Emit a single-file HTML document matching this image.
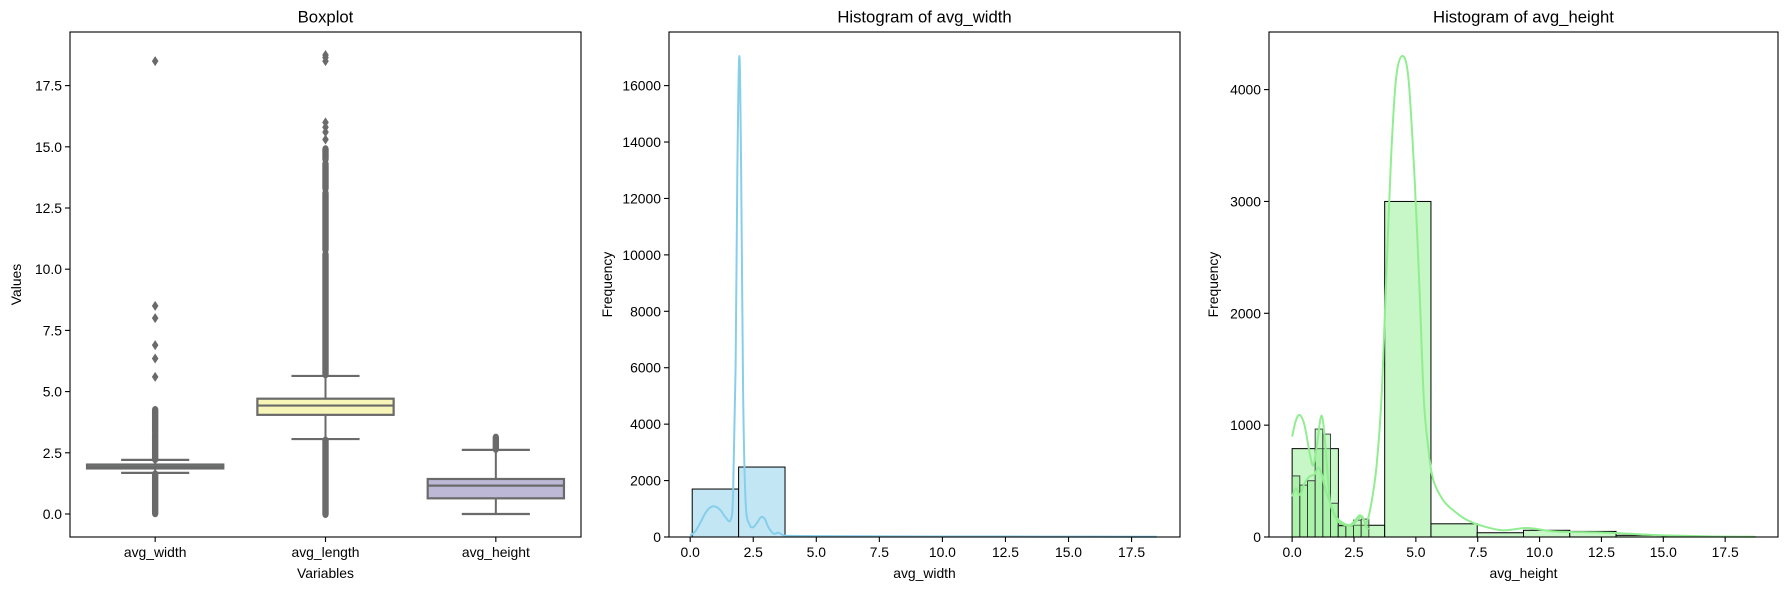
<!DOCTYPE html>
<html><head><meta charset="utf-8">
<style>
html,body{margin:0;padding:0;background:#fff;}
svg{display:block;font-family:"Liberation Sans","DejaVu Sans",sans-serif;}
</style></head>
<body>
<svg id="chart" width="1790" height="590" viewBox="0 0 1790 590" xmlns="http://www.w3.org/2000/svg"></svg>
<script>
// ---------- DATA ----------
const boxCategories = ["avg_width","avg_length","avg_height"];
const boxQ1 = [1.86, 4.05, 0.64];
const boxMedian = [1.93, 4.43, 1.16];
const boxQ3 = [2.02, 4.71, 1.43];
const boxWhiskLo = [1.68, 3.06, 0.0];
const boxWhiskHi = [2.21, 5.64, 2.62];
const boxFill = ["#8fc9bf","#f7f6b8","#bdb8d6"];
const widthOutlierRanges = [[0.03,1.62],[2.24,3.25],[3.35,3.9],[3.95,4.25]];
const widthOutliers = [5.6,6.35,6.9,8.0,8.5,18.5];
const lengthOutlierRanges = [[0.0,3.0],[5.7,10.6],[10.8,13.1],[13.3,14.3],[14.5,14.9]];
const lengthOutliers = [15.3,15.6,15.8,16.0,18.5,18.65,18.75];
const heightOutlierRanges = [[2.66,3.12]];
const heightOutliers = [];
const boxYTicks = [0,2.5,5,7.5,10,12.5,15,17.5];
const boxYTickLabels = ["0.0","2.5","5.0","7.5","10.0","12.5","15.0","17.5"];

const wBinEdges = [0.08,1.92,3.76,5.6,7.44,9.28,11.12,12.96,14.8,16.64,18.48];
const wBinCounts = [1700,2480,30,12,6,3,2,1,1,2];
const wKdeX = [0.0,0.2,0.4,0.6,0.8,1.0,1.2,1.4,1.6,1.7,1.8,1.87,1.95,2.02,2.1,2.2,2.35,2.5,2.65,2.8,2.95,3.1,3.3,3.5,3.7,4.0,5,7,10,14,18.5];
const wKdeY = [50,200,500,850,1050,1080,950,700,600,1500,6000,13000,17050,13000,5000,1200,450,350,500,700,650,350,120,150,60,40,30,25,20,15,10];
const wXTicks = [0,2.5,5,7.5,10,12.5,15,17.5];
const wXTickLabels = ["0.0","2.5","5.0","7.5","10.0","12.5","15.0","17.5"];
const wYTicks = [0,2000,4000,6000,8000,10000,12000,14000,16000];

const hBinEdges = [0,1.87,3.74,5.61,7.48,9.35,11.22,13.09,14.96,16.83,18.7];
const hBinCounts = [790,105,3000,118,38,60,50,15,5,3];
const hFineEdges = [0,0.31,0.62,0.93,1.24,1.55,1.86,2.17,2.48,2.79,3.1];
const hFineCounts = [546,464,503,965,920,302,100,100,151,160];
const hKdeAX = [0,0.15,0.31,0.5,0.7,0.85,1.0,1.19,1.35,1.52,1.7,1.87,2.1,2.33,2.55,2.74,2.9,3.0,3.2,3.41,3.61,3.8,4.0,4.2,4.45,4.7,4.95,5.15,5.32,5.5,5.7,6.1,6.5,7.0,7.6,8.5,9.5,10.4,11.2,12.5,14,15,17,18.7];
const hKdeAY = [898,1040,1091,1000,760,640,820,1085,800,332,200,136,110,105,150,196,150,120,300,633,1236,2300,3400,4100,4300,4100,3200,2200,1236,800,512,330,241,160,105,60,81,54,45,40,25,15,5,2];
const hKdeBX = [0,0.15,0.31,0.5,0.7,0.9,1.05,1.2,1.35,1.55,1.75,1.95,2.2,2.45,2.7,2.85,3.0,3.1];
const hKdeBY = [362,437,377,480,540,560,620,560,420,300,190,140,110,110,170,180,90,70];
const hXTicks = [0,2.5,5,7.5,10,12.5,15,17.5];
const hXTickLabels = ["0.0","2.5","5.0","7.5","10.0","12.5","15.0","17.5"];
const hYTicks = [0,1000,2000,3000,4000];

// ---------- LAYOUT ----------
const svg = document.getElementById('chart');
const NS = "http://www.w3.org/2000/svg";
const TOP = 32, BOT = 537;
function mk(tag, attrs, parent){
  const e = document.createElementNS(NS, tag);
  for (const k in attrs) e.setAttribute(k, attrs[k]);
  (parent||svg).appendChild(e);
  return e;
}
function txt(str, x, y, size, anchor, parent, rot){
  const t = mk('text', {x:x, y:y, 'font-size':size, 'text-anchor':anchor||'middle', fill:'#000', 'dominant-baseline':'central'}, parent);
  if (rot) t.setAttribute('transform', 'rotate(-90 '+x+' '+y+')');
  t.textContent = str;
  return t;
}
function frame(g, L, R){
  const f = mk('rect', {x:L, y:TOP, width:R-L, height:BOT-TOP, fill:'none', stroke:'#000', 'stroke-width':1.1}, g);
  
  
}
function yAxis(g, L, ticks, labels, sy){
  ticks.forEach((v,i)=>{
    const y = sy(v);
    mk('line', {x1:L-5, x2:L, y1:y, y2:y, stroke:'#000', 'stroke-width':1.1}, g);
    const t = txt(labels[i], L-8, y, 13.9, 'end', g);
    
    
  });
}
function xAxis(g, ticks, labels, sx){
  ticks.forEach((v,i)=>{
    const x = sx(v);
    mk('line', {x1:x, x2:x, y1:BOT, y2:BOT+5, stroke:'#000', 'stroke-width':1.1}, g);
    const t = txt(labels[i], x, 552, 13.9, 'middle', g);
    
    
  });
}
function smoothPath(xs, ys, sx, sy){
  const P = xs.map((x,i)=>[sx(x), sy(ys[i])]);
  const base = sy(0);
  let d = 'M'+P[0][0].toFixed(2)+','+P[0][1].toFixed(2);
  for (let i=0;i<P.length-1;i++){
    const p0 = P[Math.max(0,i-1)], p1 = P[i], p2 = P[i+1], p3 = P[Math.min(P.length-1,i+2)];
    let c1x = p1[0] + (p2[0]-p0[0])/6, c1y = p1[1] + (p2[1]-p0[1])/6;
    let c2x = p2[0] - (p3[0]-p1[0])/6, c2y = p2[1] - (p3[1]-p1[1])/6;
    c1x = Math.min(Math.max(c1x, p1[0]), p2[0]);
    c2x = Math.min(Math.max(c2x, p1[0]), p2[0]);
    c1y = Math.min(c1y, base); c2y = Math.min(c2y, base);
    d += ' C'+c1x.toFixed(2)+','+c1y.toFixed(2)+' '+c2x.toFixed(2)+','+c2y.toFixed(2)+' '+p2[0].toFixed(2)+','+p2[1].toFixed(2);
  }
  return d;
}

// ---------- PANEL 1: BOXPLOT ----------
(function(){
  const g = mk('g', {});
  
  
  const L = 70, R = 581;
  const yMin = -0.94, yMax = 19.69;
  const sy = v => BOT - (v - yMin) / (yMax - yMin) * (BOT - TOP);
  const band = (R - L) / boxCategories.length;
  const sx = i => L + band * (i + 0.5);
  const bw = band * 0.8;
  const col = '#6a6a6a';
  const rangesAll = [widthOutlierRanges, lengthOutlierRanges, heightOutlierRanges];
  const ptsAll = [widthOutliers, lengthOutliers, heightOutliers];
  boxCategories.forEach((c,i)=>{
    const cx = sx(i);
    const bg = mk('g', {}, g);
    
    
    mk('line', {x1:cx, x2:cx, y1:sy(boxWhiskHi[i]), y2:sy(boxQ3[i]), stroke:col, 'stroke-width':2}, bg);
    mk('line', {x1:cx, x2:cx, y1:sy(boxQ1[i]), y2:sy(boxWhiskLo[i]), stroke:col, 'stroke-width':2}, bg);
    mk('line', {x1:cx-bw/4, x2:cx+bw/4, y1:sy(boxWhiskHi[i]), y2:sy(boxWhiskHi[i]), stroke:col, 'stroke-width':2.2}, bg);
    mk('line', {x1:cx-bw/4, x2:cx+bw/4, y1:sy(boxWhiskLo[i]), y2:sy(boxWhiskLo[i]), stroke:col, 'stroke-width':2.2}, bg);
    rangesAll[i].forEach(r=>{
      const y1 = sy(r[1]) - 4, y2 = sy(r[0]) + 4;
      const o = mk('rect', {x:cx-3.2, y:y1, width:6.4, height:y2-y1, rx:3.2, ry:4, fill:col}, bg);
      
      
    });
    ptsAll[i].forEach(v=>{
      const y = sy(v);
      const o = mk('path', {d:`M${cx},${y-5} L${cx+3.3},${y} L${cx},${y+5} L${cx-3.3},${y} Z`, fill:col}, bg);
      
      
    });
    mk('rect', {x:cx-bw/2, y:sy(boxQ3[i]), width:bw, height:sy(boxQ1[i])-sy(boxQ3[i]), fill:boxFill[i], stroke:col, 'stroke-width':2.2}, bg);
    mk('line', {x1:cx-bw/2, x2:cx+bw/2, y1:sy(boxMedian[i]), y2:sy(boxMedian[i]), stroke:col, 'stroke-width':2.2}, bg);
    mk('line', {x1:cx, x2:cx, y1:BOT, y2:BOT+5, stroke:'#000', 'stroke-width':1.1}, g);
    const t = txt(c, cx, 552, 13.9, 'middle', g);
    
    
  });
  frame(g, L, R);
  yAxis(g, L, boxYTicks, boxYTickLabels, sy);
  const ti = txt('Boxplot', (L+R)/2, 17, 16.7, 'middle', g);
  
  
  const xl = txt('Variables', (L+R)/2, 573, 13.9, 'middle', g);
  
  
  const yl = txt('Values', 16, (TOP+BOT)/2, 13.9, 'middle', g, true);
  
  
})();

// ---------- PANEL 2: HIST avg_width ----------
(function(){
  const g = mk('g', {});
  
  
  const L = 669, R = 1180;
  const xMin = -0.84, xMax = 19.42, yMax = 17900;
  const sx = v => L + (v - xMin) / (xMax - xMin) * (R - L);
  const sy = v => BOT - v / yMax * (BOT - TOP);
  wBinCounts.forEach((c,i)=>{
    const b = mk('rect', {x:sx(wBinEdges[i]), y:sy(c), width:sx(wBinEdges[i+1])-sx(wBinEdges[i]), height:BOT-sy(c), fill:'#c3e6f4', stroke:'#000', 'stroke-width':1}, g);
    
    
  });
  const k = mk('path', {d:smoothPath(wKdeX, wKdeY, sx, sy), fill:'none', stroke:'#87ceeb', 'stroke-width':2}, g);
  
  
  frame(g, L, R);
  yAxis(g, L, wYTicks, wYTicks.map(String), sy);
  xAxis(g, wXTicks, wXTickLabels, sx);
  const ti = txt('Histogram of avg_width', (L+R)/2, 17, 16.7, 'middle', g);
  
  
  const xl = txt('avg_width', (L+R)/2, 573, 13.9, 'middle', g);
  
  
  const yl = txt('Frequency', 607, (TOP+BOT)/2, 13.9, 'middle', g, true);
  
  
})();

// ---------- PANEL 3: HIST avg_height ----------
(function(){
  const g = mk('g', {});
  
  
  const L = 1269, R = 1778;
  const xMin = -0.935, xMax = 19.635, yMax = 4515;
  const sx = v => L + (v - xMin) / (xMax - xMin) * (R - L);
  const sy = v => BOT - v / yMax * (BOT - TOP);
  hBinCounts.forEach((c,i)=>{
    const b = mk('rect', {x:sx(hBinEdges[i]), y:sy(c), width:sx(hBinEdges[i+1])-sx(hBinEdges[i]), height:BOT-sy(c), fill:'#c7f6c7', stroke:'#000', 'stroke-width':1}, g);
    
    
  });
  hFineCounts.forEach((c,i)=>{
    const b = mk('rect', {x:sx(hFineEdges[i]), y:sy(c), width:sx(hFineEdges[i+1])-sx(hFineEdges[i]), height:BOT-sy(c), fill:'#90ee90', 'fill-opacity':0.5, stroke:'#333', 'stroke-width':0.9}, g);
    
    
  });
  const kb = mk('path', {d:smoothPath(hKdeBX, hKdeBY, sx, sy), fill:'none', stroke:'#90ee90', 'stroke-width':2}, g);
  
  
  const ka = mk('path', {d:smoothPath(hKdeAX, hKdeAY, sx, sy), fill:'none', stroke:'#90ee90', 'stroke-width':2}, g);
  
  
  frame(g, L, R);
  yAxis(g, L, hYTicks, hYTicks.map(String), sy);
  xAxis(g, hXTicks, hXTickLabels, sx);
  const ti = txt('Histogram of avg_height', (L+R)/2, 17, 16.7, 'middle', g);
  
  
  const xl = txt('avg_height', (L+R)/2, 573, 13.9, 'middle', g);
  
  
  const yl = txt('Frequency', 1213, (TOP+BOT)/2, 13.9, 'middle', g, true);
  
  
})();
</script>
</body></html>
